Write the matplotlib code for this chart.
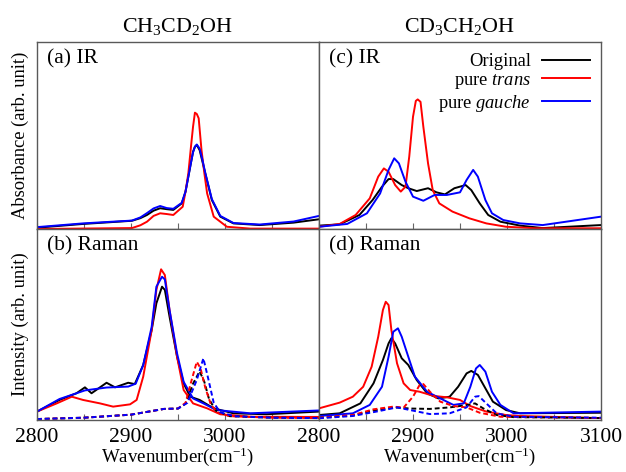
import matplotlib
matplotlib.use("Agg")
import matplotlib.pyplot as plt

plt.rcParams['font.family'] = ['Liberation Serif', 'DejaVu Serif']
plt.rcParams['mathtext.fontset'] = 'custom'
plt.rcParams['mathtext.rm'] = 'Liberation Serif'
plt.rcParams['mathtext.it'] = 'Liberation Serif:italic'

# ---- (a) IR, CH3CD2OH ----
a_orig_x = [2800, 2849, 2880, 2901, 2910, 2917, 2924, 2931, 2938, 2945, 2954, 2958, 2961, 2964, 2966, 2968, 2970, 2973, 2976, 2979, 2986, 2995, 3009, 3037, 3073, 3100]
a_orig_y = [0.007, 0.027, 0.037, 0.044, 0.058, 0.075, 0.098, 0.111, 0.106, 0.102, 0.137, 0.2, 0.28, 0.36, 0.413, 0.44, 0.449, 0.422, 0.36, 0.298, 0.155, 0.066, 0.03, 0.021, 0.034, 0.052]
a_trans_x = [2800, 2901, 2910, 2917, 2924, 2931, 2938, 2945, 2955, 2958, 2961, 2964, 2966, 2968, 2970, 2972, 2975, 2978, 2981, 2988, 3002, 3027, 3100]
a_trans_y = [0.0, 0.005, 0.02, 0.039, 0.07, 0.084, 0.08, 0.075, 0.119, 0.2, 0.298, 0.45, 0.547, 0.622, 0.615, 0.592, 0.422, 0.3, 0.19, 0.066, 0.012, 0.002, 0.002]
a_gauche_x = [2800, 2849, 2880, 2901, 2910, 2917, 2924, 2931, 2938, 2945, 2954, 2958, 2961, 2964, 2966, 2968, 2970, 2973, 2976, 2979, 2986, 2995, 3009, 3037, 3073, 3100]
a_gauche_y = [0.01, 0.03, 0.039, 0.045, 0.062, 0.085, 0.11, 0.123, 0.112, 0.108, 0.14, 0.2, 0.28, 0.36, 0.41, 0.44, 0.452, 0.43, 0.37, 0.3, 0.16, 0.07, 0.032, 0.024, 0.04, 0.07]

# ---- (c) IR, CD3CH2OH ----
c_orig_x = [2800, 2822, 2843, 2857, 2867, 2874, 2879, 2888, 2895, 2904, 2916, 2925, 2934, 2944, 2956, 2962, 2971, 2980, 2993, 3014, 3038, 3100]
c_orig_y = [0.018, 0.025, 0.075, 0.155, 0.226, 0.267, 0.267, 0.235, 0.218, 0.203, 0.218, 0.196, 0.185, 0.218, 0.235, 0.208, 0.137, 0.075, 0.039, 0.018, 0.005, 0.021]
c_trans_x = [2800, 2822, 2839, 2854, 2863, 2869, 2874, 2881, 2887, 2892, 2896, 2900, 2903, 2905, 2908, 2911, 2916, 2921, 2928, 2942, 2960, 2978, 2999, 3030, 3100]
c_trans_y = [0.012, 0.027, 0.075, 0.164, 0.28, 0.324, 0.306, 0.235, 0.2, 0.226, 0.387, 0.6, 0.685, 0.693, 0.68, 0.547, 0.351, 0.208, 0.137, 0.093, 0.057, 0.03, 0.012, 0.004, 0.004]
c_gauche_x = [2800, 2830, 2851, 2865, 2874, 2880, 2885, 2892, 2900, 2911, 2923, 2936, 2950, 2957, 2964, 2969, 2977, 2984, 2996, 3014, 3038, 3100]
c_gauche_y = [0.012, 0.027, 0.084, 0.19, 0.316, 0.378, 0.351, 0.253, 0.173, 0.151, 0.182, 0.182, 0.196, 0.262, 0.316, 0.28, 0.155, 0.084, 0.048, 0.03, 0.021, 0.066]

# ---- (b) Raman, CH3CD2OH ----
b_orig_x = [2800, 2824, 2842, 2851, 2858, 2874, 2883, 2897, 2904, 2913, 2922, 2927, 2933, 2936, 2941, 2949, 2956, 2963, 2973, 2988, 3009, 3044, 3100]
b_orig_y = [0.044, 0.105, 0.14, 0.171, 0.14, 0.195, 0.171, 0.195, 0.188, 0.288, 0.471, 0.611, 0.698, 0.681, 0.541, 0.331, 0.192, 0.122, 0.105, 0.061, 0.035, 0.03, 0.044]
b_trans_x = [2800, 2821, 2837, 2849, 2867, 2881, 2899, 2906, 2913, 2922, 2927, 2932, 2936, 2941, 2949, 2956, 2966, 2981, 2995, 3027, 3100]
b_trans_y = [0.044, 0.087, 0.122, 0.105, 0.087, 0.07, 0.082, 0.105, 0.227, 0.471, 0.681, 0.789, 0.759, 0.576, 0.331, 0.157, 0.087, 0.061, 0.03, 0.017, 0.016]
b_gauche_x = [2800, 2824, 2842, 2851, 2874, 2897, 2905, 2913, 2922, 2927, 2933, 2936, 2941, 2949, 2956, 2966, 2977, 2991, 3027, 3100]
b_gauche_y = [0.044, 0.11, 0.14, 0.155, 0.17, 0.175, 0.19, 0.288, 0.488, 0.698, 0.75, 0.736, 0.576, 0.349, 0.2, 0.113, 0.087, 0.052, 0.035, 0.05]
b_orig_d_x = [2800, 2850, 2900, 2920, 2935, 2950, 2958, 2966, 2973, 2978, 2983, 2990, 3005, 3050, 3100]
b_orig_d_y = [0.005, 0.012, 0.028, 0.045, 0.058, 0.06, 0.085, 0.19, 0.255, 0.2, 0.11, 0.05, 0.02, 0.012, 0.01]
b_trans_d_x = [2800, 2850, 2900, 2920, 2935, 2950, 2958, 2964, 2970, 2974, 2979, 2985, 2992, 3005, 3050, 3100]
b_trans_d_y = [0.005, 0.012, 0.028, 0.045, 0.058, 0.06, 0.09, 0.2, 0.305, 0.27, 0.17, 0.08, 0.04, 0.02, 0.012, 0.01]
b_gauche_d_x = [2800, 2850, 2900, 2920, 2935, 2950, 2960, 2970, 2977, 2982, 2988, 2995, 3010, 3050, 3100]
b_gauche_d_y = [0.005, 0.012, 0.028, 0.045, 0.058, 0.06, 0.09, 0.21, 0.323, 0.22, 0.09, 0.04, 0.02, 0.012, 0.01]

# ---- (d) Raman, CD3CH2OH ----
d_orig_x = [2800, 2822, 2844, 2858, 2868, 2874, 2877, 2881, 2888, 2895, 2904, 2915, 2927, 2939, 2948, 2957, 2962, 2969, 2977, 2985, 2999, 3014, 3100]
d_orig_y = [0.026, 0.035, 0.087, 0.192, 0.314, 0.401, 0.428, 0.401, 0.323, 0.288, 0.209, 0.14, 0.113, 0.122, 0.174, 0.244, 0.257, 0.236, 0.166, 0.096, 0.052, 0.035, 0.038]
d_trans_x = [2800, 2822, 2836, 2847, 2856, 2863, 2868, 2871, 2874, 2877, 2883, 2890, 2897, 2907, 2922, 2936, 2950, 2961, 2978, 2999, 3014, 3100]
d_trans_y = [0.061, 0.091, 0.122, 0.174, 0.279, 0.436, 0.576, 0.619, 0.602, 0.471, 0.297, 0.192, 0.157, 0.148, 0.126, 0.119, 0.105, 0.073, 0.044, 0.026, 0.021, 0.01]
d_gauche_x = [2800, 2836, 2854, 2867, 2874, 2879, 2884, 2888, 2895, 2902, 2915, 2929, 2943, 2954, 2961, 2967, 2971, 2977, 2984, 2993, 3007, 3100]
d_gauche_y = [0.021, 0.035, 0.079, 0.174, 0.331, 0.462, 0.48, 0.436, 0.331, 0.227, 0.148, 0.113, 0.079, 0.087, 0.174, 0.27, 0.288, 0.253, 0.148, 0.079, 0.035, 0.044]
d_orig_d_x = [2800, 2836, 2858, 2881, 2897, 2918, 2939, 2957, 2966, 2975, 2989, 3007, 3100]
d_orig_d_y = [0.012, 0.024, 0.05, 0.066, 0.06, 0.058, 0.066, 0.078, 0.087, 0.06, 0.026, 0.015, 0.01]
d_trans_d_x = [2800, 2836, 2858, 2879, 2890, 2900, 2907, 2911, 2918, 2929, 2943, 2957, 2971, 2993, 3100]
d_trans_d_y = [0.012, 0.026, 0.056, 0.07, 0.065, 0.122, 0.183, 0.188, 0.148, 0.096, 0.073, 0.066, 0.038, 0.017, 0.01]
d_gauche_d_x = [2800, 2836, 2861, 2883, 2897, 2918, 2939, 2957, 2966, 2970, 2978, 2989, 3007, 3100]
d_gauche_d_y = [0.009, 0.021, 0.044, 0.066, 0.052, 0.031, 0.035, 0.066, 0.122, 0.125, 0.087, 0.035, 0.017, 0.012]

titles = ['CH$_3$CD$_2$OH', 'CD$_3$CH$_2$OH']
panel_labels = ['(a) IR', '(b) Raman', '(c) IR', '(d) Raman']
ylabels = ['Absorbance (arb. unit)', 'Intensity (arb. unit)']
legend_labels = ['Original', 'pure $\\it{trans}$', 'pure $\\it{gauche}$']
colors = ['black', 'red', 'blue']

fig = plt.figure(figsize=(6.26, 4.72), dpi=100)
x0, xm, x1 = 37 / 626, 319 / 626, 601 / 626
yt, ym, yb = 1 - 42 / 472, 1 - 229 / 472, 1 - 420 / 472
ax_a = fig.add_axes([x0, ym, xm - x0, yt - ym])
ax_b = fig.add_axes([x0, yb, xm - x0, ym - yb])
ax_c = fig.add_axes([xm, ym, x1 - xm, yt - ym])
ax_d = fig.add_axes([xm, yb, x1 - xm, ym - yb])

lw = 1.4
for ax, curves in [(ax_a, [(a_orig_x, a_orig_y), (a_trans_x, a_trans_y), (a_gauche_x, a_gauche_y)]),
                   (ax_c, [(c_orig_x, c_orig_y), (c_trans_x, c_trans_y), (c_gauche_x, c_gauche_y)]),
                   (ax_b, [(b_orig_x, b_orig_y), (b_trans_x, b_trans_y), (b_gauche_x, b_gauche_y)]),
                   (ax_d, [(d_orig_x, d_orig_y), (d_trans_x, d_trans_y), (d_gauche_x, d_gauche_y)])]:
    for (xs, ys), col, lab in zip(curves, colors, legend_labels):
        ax.plot(xs, ys, color=col, lw=lw, label=lab)

# dashed components in the Raman panels
for ax, curves in [(ax_b, [(b_orig_d_x, b_orig_d_y), (b_trans_d_x, b_trans_d_y), (b_gauche_d_x, b_gauche_d_y)]),
                   (ax_d, [(d_orig_d_x, d_orig_d_y), (d_trans_d_x, d_trans_d_y), (d_gauche_d_x, d_gauche_d_y)])]:
    for (xs, ys), col in zip(curves, colors):
        ax.plot(xs, ys, color=col, lw=lw, ls=(0, (2.5, 1.5)))

for ax, lab in zip([ax_a, ax_b, ax_c, ax_d], panel_labels):
    ax.set_xlim(2800, 3100)
    ax.set_ylim(0, 1)
    ax.set_yticks([])
    ax.set_xticks([2800, 2850, 2900, 2950, 3000, 3050, 3100])
    ax.tick_params(axis='x', direction='in', length=4, width=0.8, color='0.4', labelsize=15.5, pad=6)
    ax.text(0.035, 0.96, lab, transform=ax.transAxes, fontsize=15.5, va='top', ha='left')
    for sp in ax.spines.values():
        sp.set_color('0.35')
        sp.set_linewidth(1.0)

for ax in [ax_a, ax_c]:
    ax.set_xticklabels([])
ax_b.set_xticklabels(['2800', '', '2900', '', '3000', '', ''])
ax_d.set_xticklabels(['2800', '', '2900', '', '3000', '', '3100'])
for ax in [ax_b, ax_d]:
    ax.set_xlabel('Wavenumber(cm$^{-1}$)', fontsize=13.6, labelpad=-1)

ax_a.set_title(titles[0], fontsize=15.8, pad=7)
ax_c.set_title(titles[1], fontsize=15.8, pad=7)
ax_a.set_ylabel(ylabels[0], fontsize=13.3, labelpad=6)
ax_b.set_ylabel(ylabels[1], fontsize=13.3, labelpad=6)

ax_c.legend(loc='upper right', frameon=False, markerfirst=False, fontsize=13.3,
            handlelength=2.6, labelspacing=0.1, borderaxespad=0.2, handletextpad=0.6)

fig.savefig('out.png', dpi=100)
